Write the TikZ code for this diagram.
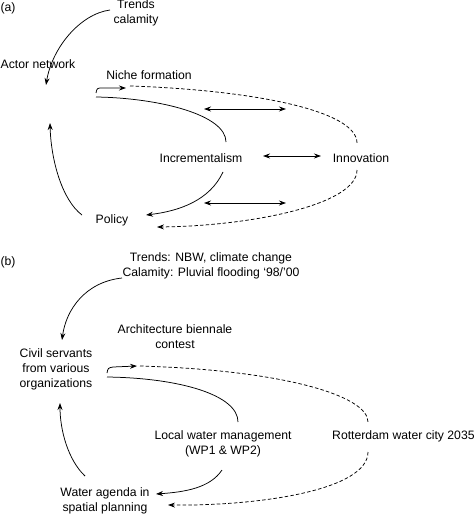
\documentclass[tikz,border=0pt]{standalone}
\usepackage{fontspec}
\setmainfont{Liberation Sans}
\usetikzlibrary{arrows.meta}
\tikzset{
  lbl/.style={inner sep=0pt, align=center, font=\fontsize{12.2pt}{15pt}\selectfont},
  con/.style={line width=0.75pt},
  arr/.style={con, -{Stealth[length=7pt,width=5pt]}},
  darr/.style={con, {Stealth[length=7pt,width=5pt]}-{Stealth[length=7pt,width=5pt]}},
  dsh/.style={con, dash pattern=on 3.5pt off 2.2pt}
}
\begin{document}
\begin{tikzpicture}[x=1pt,y=-1pt]
\useasboundingbox (0,0) rectangle (474,516);
% ---------- panel (a) ----------
\node[lbl] (la) at (8,8) {(a)};
\node[lbl] (trA) at (136,13) {Trends\\calamity};
\node[lbl] (actA) at (38,64) {Actor network};
\node[lbl] (niA) at (149,75) {Niche formation};
\node[lbl] (incA) at (201,158) {Incrementalism};
\node[lbl] (innA) at (361,158) {Innovation};
\node[lbl] (polA) at (112,220) {Policy};

\coordinate (a1s) at (110,10);  \coordinate (a1e) at (46,85);
\coordinate (a2s) at (96,93);   \coordinate (a2e) at (126,88);
\coordinate (a3s) at (96,97);   \coordinate (a3e) at (226,142);
\coordinate (a4s) at (223,172); \coordinate (a4e) at (146,215);
\coordinate (a5s) at (82,215);  \coordinate (a5e) at (50,123);
\coordinate (a6s) at (130,86);  \coordinate (a6e) at (357,143);
\coordinate (a7s) at (357,170); \coordinate (a7e) at (157,227);
\coordinate (d1s) at (204,109); \coordinate (d1e) at (286,109);
\coordinate (d2s) at (263,156); \coordinate (d2e) at (321,156);
\coordinate (d3s) at (204,203); \coordinate (d3e) at (286,203);

\draw[arr] (a1s) .. controls (80,14) and (52,48) .. (a1e);
\draw[arr] (a2s) .. controls (97,88) .. (103,88) -- (a2e);
\draw[con] (a3s) .. controls (160,98) and (226,115) .. (a3e);
\draw[arr] (a4s) .. controls (210,200) and (180,211) .. (a4e);
\draw[arr] (a5s) .. controls (62,200) and (51,160) .. (a5e);
\draw[dsh] (a6s) .. controls (250,90) and (357,110) .. (a6e);
\draw[dsh,arr] (a7s) .. controls (357,205) and (250,226) .. (a7e);
\draw[darr] (d1s) -- (d1e);
\draw[darr] (d2s) -- (d2e);
\draw[darr] (d3s) -- (d3e);

% ---------- panel (b) ----------
\node[lbl] (lb) at (8,262) {(b)};
\node[lbl] (trB) at (211,266) {Trends: NBW, climate change\\Calamity: Pluvial flooding ‘98/’00};
\node[lbl] (cs) at (56,369) {Civil servants\\from various\\organizations};
\node[lbl] (arch) at (175,337) {Architecture biennale\\contest};
\node[lbl] (lwm) at (223,444) {Local water management\\(WP1 \& WP2)};
\node[lbl, anchor=west] (rot) at (332,436) {Rotterdam water city 2035};
\node[lbl] (wa) at (105,501) {Water agenda in\\spatial planning};

\coordinate (b1s) at (122,278); \coordinate (b1e) at (62,340);
\coordinate (b2s) at (107,373); \coordinate (b2e) at (137,366);
\coordinate (b3s) at (107,377); \coordinate (b3e) at (238,422);
\coordinate (b4s) at (222,470); \coordinate (b4e) at (156,494);
\coordinate (b5s) at (85,476);  \coordinate (b5e) at (60,403);
\coordinate (b6s) at (140,366); \coordinate (b6e) at (368,422);
\coordinate (b7s) at (368,452); \coordinate (b7e) at (168,505);

\draw[arr] (b1s) .. controls (85,282) and (66,310) .. (b1e);
\draw[arr] (b2s) .. controls (108,368) .. (113,367) -- (b2e);
\draw[con] (b3s) .. controls (180,378) and (238,395) .. (b3e);
\draw[arr] (b4s) .. controls (210,488) and (185,492) .. (b4e);
\draw[arr] (b5s) .. controls (68,460) and (60,430) .. (b5e);
\draw[dsh] (b6s) .. controls (280,370) and (368,395) .. (b6e);
\draw[dsh,arr] (b7s) .. controls (368,490) and (260,506) .. (b7e);
\end{tikzpicture}
\end{document}
